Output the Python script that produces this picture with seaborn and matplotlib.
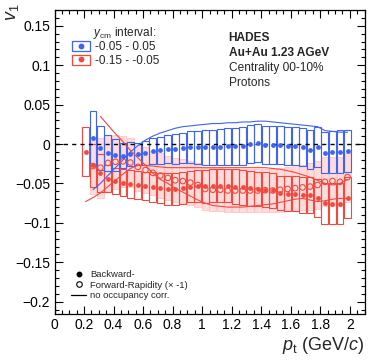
import numpy as np
import pandas as pd
import matplotlib
matplotlib.use("Agg")
import matplotlib.pyplot as plt
import seaborn as sns
from matplotlib.patches import Patch
from matplotlib.lines import Line2D
from matplotlib.legend_handler import HandlerTuple
from matplotlib.ticker import MultipleLocator, FixedLocator, FuncFormatter

# transverse-momentum bin centres (GeV/c)
pt_red = [0.210, 0.261, 0.311, 0.362, 0.413, 0.464, 0.514, 0.565, 0.616, 0.666,
          0.717, 0.768, 0.818, 0.869, 0.920, 0.971, 1.021, 1.072, 1.123, 1.173,
          1.224, 1.275, 1.325, 1.376, 1.427, 1.478, 1.528, 1.579, 1.630, 1.680,
          1.731, 1.782, 1.832, 1.883, 1.934, 1.985]
pt_blue = pt_red[1:]

# y_cm in [-0.05, 0.05]: backward v1, systematic half-width, no occupancy correction
v1_blue = [0.007, -0.005, -0.011, -0.014, -0.015, -0.013, -0.013, -0.011, -0.009,
           -0.008, -0.006, -0.006, -0.005, -0.004, -0.004, -0.004, -0.004, -0.004,
           -0.003, -0.003, -0.002, 0.000, 0.001, -0.001, -0.001, -0.001, -0.002,
           -0.003, -0.004, -0.007, -0.004, -0.011, -0.010, -0.0095, -0.009]
sys_blue = [0.035, 0.028, 0.023, 0.020, 0.016, 0.015, 0.014, 0.015, 0.016, 0.017,
            0.018, 0.019, 0.019, 0.020, 0.021, 0.022, 0.022, 0.023, 0.023, 0.023,
            0.024, 0.024, 0.024, 0.024, 0.024, 0.024, 0.024, 0.024, 0.024, 0.025,
            0.025, 0.026, 0.027, 0.027, 0.027]
raw_blue = [-0.058, -0.050, -0.040, -0.030, -0.020, -0.010, -0.002, 0.005, 0.010,
            0.014, 0.017, 0.020, 0.022, 0.023, 0.024, 0.025, 0.026, 0.026, 0.027,
            0.027, 0.028, 0.028, 0.029, 0.029, 0.028, 0.027, 0.026, 0.025, 0.024,
            0.023, 0.022, 0.017, 0.016, 0.015, 0.015]

# y_cm in [-0.15, -0.05]: backward v1 and systematic half-width
v1_red_bw = [-0.010, -0.027, -0.037, -0.044, -0.047, -0.049, -0.0505, -0.052, -0.053,
             -0.054, -0.0555, -0.057, -0.057, -0.056, -0.054, -0.0535, -0.0535, -0.053,
             -0.053, -0.053, -0.054, -0.055, -0.056, -0.057, -0.058, -0.0586, -0.062,
             -0.063, -0.063, -0.065, -0.065, -0.069, -0.075, -0.076, -0.076, -0.068]
sys_red_bw = [0.031, 0.027, 0.024, 0.017, 0.017, 0.017, 0.018, 0.018, 0.018, 0.019,
              0.019, 0.020, 0.020, 0.020, 0.020, 0.020, 0.021, 0.021, 0.021, 0.021,
              0.022, 0.022, 0.022, 0.022, 0.022, 0.022, 0.022, 0.022, 0.022, 0.023,
              0.023, 0.024, 0.026, 0.026, 0.026, 0.026]
# forward v1 (multiplied by -1), from the second bin on
v1_red_fw = [-0.028, -0.030, -0.024, -0.0225, -0.022, -0.0235, -0.029, -0.033,
             -0.0366, -0.040, -0.043, -0.046, -0.047, -0.049, -0.052, -0.057, -0.058,
             -0.058, -0.059, -0.059, -0.059, -0.059, -0.059, -0.0586, -0.059, -0.058,
             -0.057, -0.056, -0.055, -0.054, -0.052, -0.048, -0.047, -0.048, -0.042]
sys_red_fw = [0.035, 0.038, 0.036, 0.034, 0.032, 0.031, 0.030, 0.029, 0.028, 0.028,
              0.028, 0.028, 0.028, 0.028, 0.028, 0.027, 0.027, 0.027, 0.027, 0.027,
              0.027, 0.027, 0.027, 0.027, 0.027, 0.028, 0.028, 0.029, 0.029, 0.030,
              0.030, 0.031, 0.031, 0.031, 0.031]
# without occupancy correction
raw_red_bw = [-0.073, -0.068, -0.062, -0.054, -0.046, -0.038, -0.031, -0.027, -0.027,
              -0.028, -0.029, -0.030, -0.030, -0.030, -0.030, -0.030, -0.030, -0.030,
              -0.030, -0.030, -0.030, -0.030, -0.030, -0.030, -0.030, -0.031, -0.032,
              -0.034, -0.036, -0.039, -0.042, -0.046, -0.050, -0.052, -0.050, -0.045]
pt_raw_fw = pt_red[2:]
raw_red_fw = [0.035, 0.024, 0.013, 0.003, -0.008, -0.0175, -0.027, -0.037, -0.045,
              -0.050, -0.056, -0.061, -0.066, -0.071, -0.075, -0.078, -0.079, -0.080,
              -0.080, -0.080, -0.079, -0.078, -0.077, -0.076, -0.074, -0.072, -0.070,
              -0.069, -0.071, -0.073, -0.072, -0.070, -0.069, -0.069]

x_major = [0, 0.2, 0.4, 0.6, 0.8, 1, 1.2, 1.4, 1.6, 1.8, 2]
y_major = [-0.2, -0.15, -0.1, -0.05, 0, 0.05, 0.1, 0.15]

BLUE = "#3f63f2"
RED = "#f2493e"
PINK = "#ffd0d0"

sns.set_theme(style="ticks")
plt.rcParams["font.family"] = ["Liberation Sans", "DejaVu Sans"]
plt.rcParams["mathtext.fontset"] = "custom"
plt.rcParams["mathtext.rm"] = "Liberation Sans"
plt.rcParams["mathtext.it"] = "Liberation Sans:italic"

fig = plt.figure(figsize=(3.68, 3.6), dpi=100)
ax = fig.add_axes([54.5 / 368, (360 - 314.3) / 360, 310 / 368, 304.3 / 360])

w = 0.047
blue_df = pd.DataFrame({"pt": pt_blue, "v1": v1_blue, "sys": sys_blue, "raw": raw_blue})
bw_df = pd.DataFrame({"pt": pt_red, "v1": v1_red_bw, "sys": sys_red_bw, "raw": raw_red_bw})
fw_df = pd.DataFrame({"pt": pt_red[1:], "v1": v1_red_fw, "sys": sys_red_fw})
rawfw_df = pd.DataFrame({"pt": pt_raw_fw, "raw": raw_red_fw})

# systematic boxes
ax.bar(fw_df.pt, 2 * fw_df.sys, bottom=fw_df.v1 - fw_df.sys, width=w,
       color=PINK, alpha=0.75, edgecolor="#ffb8b8", linewidth=0.6, zorder=1)
ax.bar(bw_df.pt, 2 * bw_df.sys, bottom=bw_df.v1 - bw_df.sys, width=w,
       fill=False, edgecolor=RED, linewidth=0.8, zorder=2)
ax.bar(blue_df.pt, 2 * blue_df.sys, bottom=blue_df.v1 - blue_df.sys, width=w,
       fill=False, edgecolor=BLUE, linewidth=0.8, zorder=2)

ax.axhline(0, color="black", lw=1.0, ls=(0, (3, 3)), zorder=3)

# uncorrected curves
sns.lineplot(data=blue_df, x="pt", y="raw", color=BLUE, lw=0.8, ax=ax, zorder=3)
sns.lineplot(data=bw_df, x="pt", y="raw", color=RED, lw=0.8, ax=ax, zorder=3)
sns.lineplot(data=rawfw_df, x="pt", y="raw", color=RED, lw=0.8, ax=ax, zorder=3)

# data points
sns.scatterplot(data=fw_df, x="pt", y="v1", marker="o", s=16, facecolors="none",
                edgecolors=RED, linewidths=0.8, ax=ax, zorder=4)
sns.scatterplot(data=bw_df, x="pt", y="v1", marker="o", s=12, color=RED,
                edgecolor=RED, linewidth=0, ax=ax, zorder=5)
sns.scatterplot(data=blue_df, x="pt", y="v1", marker="o", s=12, color=BLUE,
                edgecolor=BLUE, linewidth=0, ax=ax, zorder=5)

ax.set_xlim(0, 2.1)
ax.set_ylim(-0.216, 0.17)
ax.xaxis.set_major_locator(FixedLocator(x_major))
ax.xaxis.set_minor_locator(MultipleLocator(0.05))
ax.yaxis.set_major_locator(FixedLocator(y_major))
ax.yaxis.set_minor_locator(MultipleLocator(0.01))
fmt = FuncFormatter(lambda v, _: f"{v:g}".replace("-", "\u2212"))
ax.xaxis.set_major_formatter(fmt)
ax.yaxis.set_major_formatter(fmt)
ax.tick_params(which="both", direction="in", top=True, right=True, width=0.8,
               labelsize=10, colors="black", pad=3)
ax.tick_params(which="major", length=6)
ax.tick_params(which="minor", length=3)
for s in ax.spines.values():
    s.set_linewidth(0.9)
    s.set_color("black")
ax.set_xlabel("")
ax.set_ylabel("")

fig.text(364 / 368, 1 - 350 / 360, r"$p_{\rm t}$ (GeV/$c$)", ha="right", va="baseline",
         fontsize=13)
fig.text(4 / 368, 1 - 4 / 360, r"$v_1$", ha="left", va="top", rotation=90, fontsize=13)

# rapidity-interval legend
ax.text(0.124, 0.924, r"$y_{\rm cm}$ interval:", transform=ax.transAxes,
        fontsize=8.5, va="center", ha="left")
h_blue = (Patch(facecolor="none", edgecolor=BLUE, linewidth=0.9),
          Line2D([], [], marker="o", ls="", color=BLUE, markersize=3.2))
h_red = (Patch(facecolor="none", edgecolor=RED, linewidth=0.9),
         Line2D([], [], marker="o", ls="", color=RED, markersize=3.2))
leg1 = ax.legend([h_blue, h_red], ["-0.05 - 0.05", "-0.15 - -0.05"],
                 handler_map={tuple: HandlerTuple(ndivide=1)},
                 loc="upper left", bbox_to_anchor=(0.053, 0.901), borderaxespad=0,
                 frameon=False, fontsize=8.5, handlelength=1.5, handleheight=0.9,
                 handletextpad=0.4, labelspacing=0.12, borderpad=0.1)
ax.add_artist(leg1)

# marker-style legend
h_bw = Line2D([], [], marker="o", ls="", color="black", markersize=3.2)
h_fw = Line2D([], [], marker="o", ls="", markerfacecolor="none",
              markeredgecolor="black", markersize=4, markeredgewidth=0.8)
h_raw = Line2D([], [], color="black", lw=0.9)
ax.legend([h_bw, h_fw, h_raw], ["Backward-", "Forward-Rapidity (\u00d7 -1)",
                               "no occupancy corr."],
          loc="lower left", bbox_to_anchor=(0.05, 0.044), borderaxespad=0,
          frameon=False, fontsize=6.8, handlelength=1.6, handletextpad=0.4,
          labelspacing=0.15, borderpad=0.1)

# collaboration / system labels
ax.text(0.562, 0.908, "HADES", transform=ax.transAxes, fontsize=8.6,
        fontweight="bold", va="center")
ax.text(0.562, 0.859, "Au+Au 1.23 AGeV", transform=ax.transAxes, fontsize=8.6,
        fontweight="bold", va="center")
ax.text(0.562, 0.809, "Centrality 00-10%", transform=ax.transAxes, fontsize=8.6,
        va="center")
ax.text(0.562, 0.760, "Protons", transform=ax.transAxes, fontsize=8.6, va="center")

fig.savefig("out.png", dpi=100)
